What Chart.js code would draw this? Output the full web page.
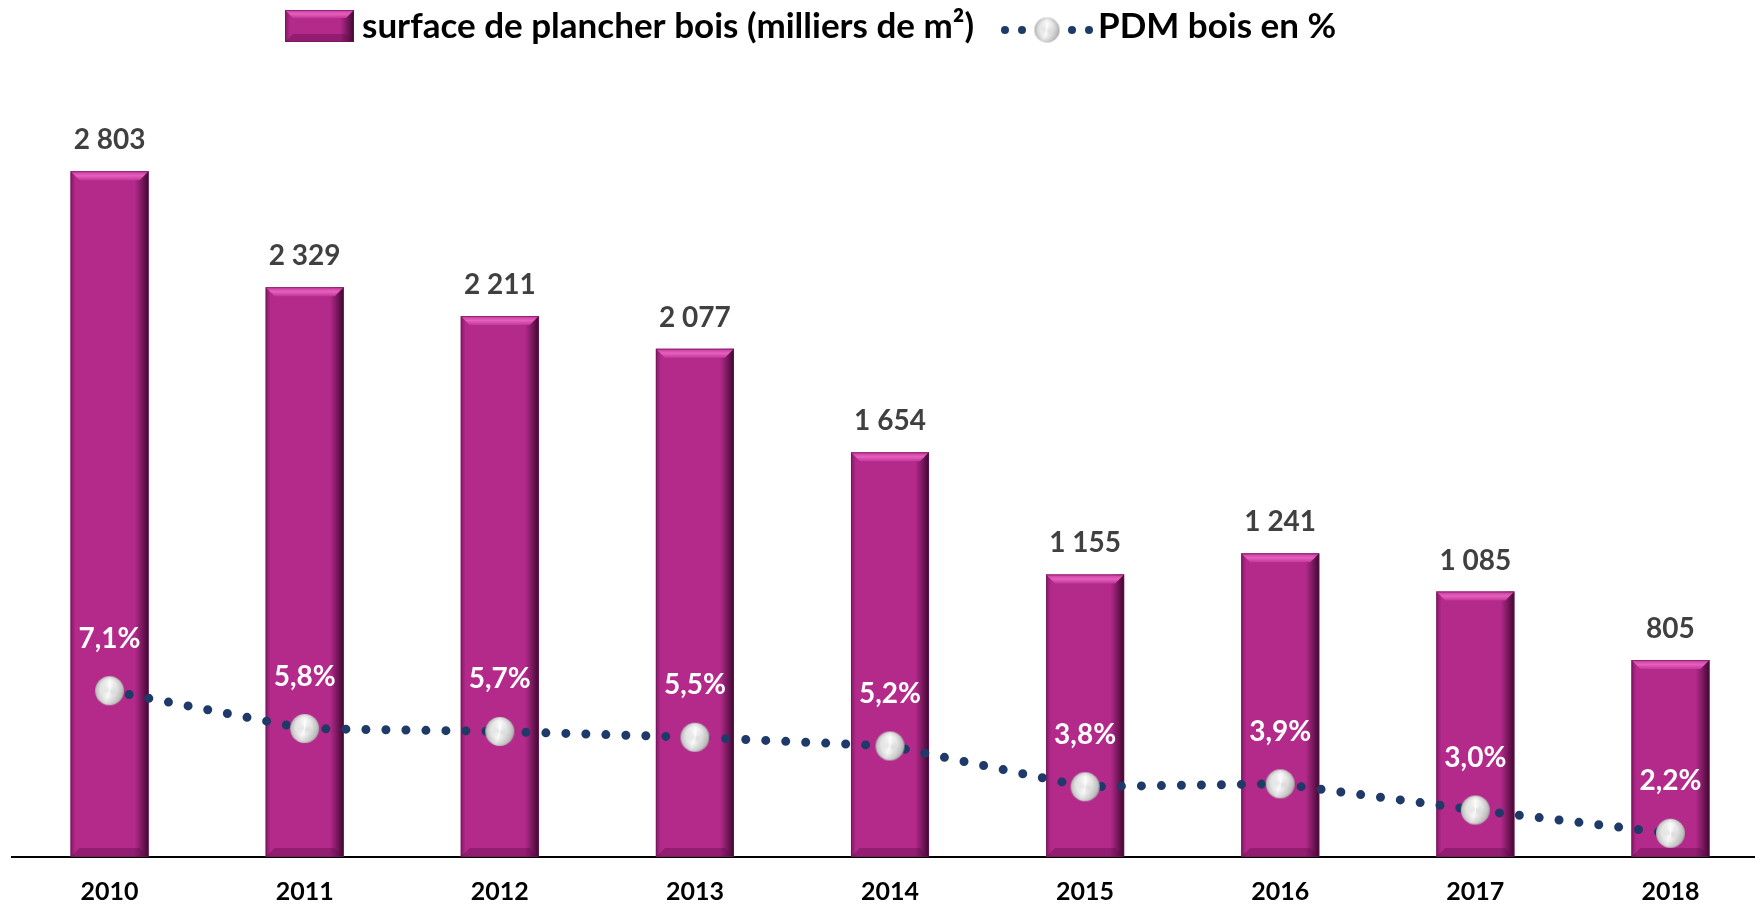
<!DOCTYPE html>
<html>
<head>
<meta charset="utf-8">
<script src="https://cdn.jsdelivr.net/npm/chart.js@4"></script>
<style>
  html, body { margin: 0; padding: 0; background: #fff; overflow: hidden; }
  #wrap { width: 1770px; height: 905px; }
</style>
</head>
<body>
<div id="wrap"><canvas id="chart" width="1770" height="905"></canvas></div>
<script>
const years = ["2010", "2011", "2012", "2013", "2014", "2015", "2016", "2017", "2018"];
const surface = [2803, 2329, 2211, 2077, 1654, 1155, 1241, 1085, 805];
const pdm = [7.1, 5.8, 5.7, 5.5, 5.2, 3.8, 3.9, 3.0, 2.2];

const BAR = "#b42a8b";
const NAVY = "#1f3a68";
const FONT = "Lato, 'Open Sans', sans-serif";

const fmtInt = (v) => String(v).replace(/\B(?=(\d{3})+(?!\d))/g, " ");
const fmtPct = (v) => v.toFixed(1).replace(".", ",") + "%";

// silver ball used as point style
function makeSphere(r) {
  const size = Math.ceil(r * 2 + 2);
  const c = document.createElement("canvas");
  c.width = size; c.height = size;
  const g = c.getContext("2d");
  const cx = size / 2, cy = size / 2;
  const rad = g.createRadialGradient(cx - r * 0.15, cy - r * 0.3, r * 0.05, cx, cy, r);
  rad.addColorStop(0, "#ffffff");
  rad.addColorStop(0.55, "#f7f7f7");
  rad.addColorStop(0.88, "#cfcfcf");
  rad.addColorStop(1, "#a5a5a5");
  g.beginPath(); g.arc(cx, cy, r, 0, Math.PI * 2); g.fillStyle = rad; g.fill();
  if (g.createConicGradient) {
    const con = g.createConicGradient(-Math.PI / 2, cx, cy);
    con.addColorStop(0, "rgba(255,255,255,0.35)");
    con.addColorStop(0.3, "rgba(110,110,110,0.2)");
    con.addColorStop(0.55, "rgba(255,255,255,0.35)");
    con.addColorStop(0.8, "rgba(120,120,120,0.15)");
    con.addColorStop(1, "rgba(255,255,255,0.35)");
    g.beginPath(); g.arc(cx, cy, r, 0, Math.PI * 2); g.fillStyle = con; g.fill();
  }
  return c;
}
const sphere = makeSphere(14.5);
const sphereSmall = makeSphere(12.5);

// bevelled bar look, drawn over a flat rectangle
function bevel(ctx, l, t, r, b, e) {
  ctx.save();
  let g = ctx.createLinearGradient(r - 14, 0, r, 0);
  g.addColorStop(0, "rgba(60,5,45,0)");
  g.addColorStop(1, "rgba(40,0,30,0.85)");
  ctx.fillStyle = g; ctx.fillRect(r - 14, t, 14, b - t);
  g = ctx.createLinearGradient(l, 0, l + 5, 0);
  g.addColorStop(0, "rgba(90,10,70,0.55)");
  g.addColorStop(1, "rgba(90,10,70,0)");
  ctx.fillStyle = g; ctx.fillRect(l, t, 5, b - t);
  // top
  ctx.beginPath();
  ctx.moveTo(l, t); ctx.lineTo(r, t); ctx.lineTo(r - e, t + e); ctx.lineTo(l + e, t + e); ctx.closePath();
  g = ctx.createLinearGradient(0, t, 0, t + e);
  g.addColorStop(0, "#c43a9c");
  g.addColorStop(0.5, "#e660bd");
  g.addColorStop(1, "#c2379a");
  ctx.fillStyle = g; ctx.fill();
  // bottom
  ctx.beginPath();
  ctx.moveTo(l, b); ctx.lineTo(r, b); ctx.lineTo(r - e, b - e); ctx.lineTo(l + e, b - e); ctx.closePath();
  ctx.fillStyle = "rgba(95,10,75,0.4)"; ctx.fill();
  ctx.strokeStyle = "rgba(110,20,85,0.6)"; ctx.lineWidth = 1;
  ctx.strokeRect(l + 0.5, t + 0.5, r - l - 1, b - t - 1);
  ctx.restore();
}

const barBevel = {
  id: "barBevel",
  afterDatasetDraw(chart, args) {
    if (args.index !== 0) return;
    const ctx = chart.ctx;
    args.meta.data.forEach((el) => {
      const p = el.getProps(["x", "y", "width", "base"], true);
      bevel(ctx, p.x - p.width / 2, p.y, p.x + p.width / 2, p.base, 9);
    });
  },
};

const valueLabels = {
  id: "valueLabels",
  afterDatasetsDraw(chart) {
    const ctx = chart.ctx;
    ctx.save();
    ctx.textAlign = "center";
    ctx.textBaseline = "middle";
    ctx.font = "bold 28px " + FONT;
    ctx.fillStyle = "#404040";
    chart.getDatasetMeta(0).data.forEach((el, i) => {
      ctx.fillText(fmtInt(surface[i]), el.x, el.y - 31);
    });
    ctx.font = "bold 28px " + FONT;
    ctx.fillStyle = "#ffffff";
    chart.getDatasetMeta(1).data.forEach((el, i) => {
      ctx.fillText(fmtPct(pdm[i]), el.x, el.y - 52);
    });
    ctx.restore();
  },
};

const legendBar = {
  id: "legendBar",
  afterDraw(chart) {
    const ctx = chart.ctx;
    ctx.save();
    ctx.fillStyle = BAR;
    ctx.fillRect(285, 10, 69, 32);
    bevel(ctx, 285, 10, 354, 42, 8);
    ctx.font = "bold 35px " + FONT;
    ctx.fillStyle = "#000";
    ctx.textBaseline = "middle";
    ctx.fillText("surface de plancher bois (milliers de m²)", 362, 27);
    ctx.fillStyle = NAVY;
    [1005, 1022, 1072, 1089].forEach((x) => {
      ctx.beginPath(); ctx.arc(x, 30, 4, 0, Math.PI * 2); ctx.fill();
    });
    ctx.drawImage(sphereSmall, 1047 - sphereSmall.width / 2, 30 - sphereSmall.height / 2);
    ctx.fillStyle = "#000";
    ctx.fillText("PDM bois en %", 1098, 27);
    ctx.restore();
  },
};

new Chart(document.getElementById("chart"), {
  type: "bar",
  data: {
    labels: years,
    datasets: [
      {
        type: "bar",
        label: "surface de plancher bois (milliers de m²)",
        data: surface,
        backgroundColor: BAR,
        borderWidth: 0,
        barPercentage: 0.4,
        categoryPercentage: 1,
        yAxisID: "y",
        order: 1,
      },
      {
        type: "line",
        label: "PDM bois en %",
        data: pdm,
        yAxisID: "y2",
        borderColor: NAVY,
        borderWidth: 9,
        borderDash: [0, 20],
        borderCapStyle: "round",
        tension: 0,
        pointStyle: sphere,
        pointRadius: 14,
        order: 0,
      },
    ],
  },
  options: {
    responsive: false,
    animation: false,
    devicePixelRatio: 1,
    layout: { autoPadding: false, padding: { left: 12, right: 2, top: 123, bottom: 0 } },
    plugins: { legend: { display: false }, tooltip: { enabled: false } },
    scales: {
      x: {
        type: "category",
        offset: true,
        grid: { display: false, drawTicks: false },
        border: { display: true, color: "#000", width: 2 },
        ticks: { color: "#000", font: { family: FONT, weight: "bold", size: 25 }, padding: 20 },
        afterFit: (s) => { s.height = 48; },
      },
      y: { display: false, min: 0, max: 3000 },
      y2: { display: false, min: 1.385, max: 26.61 },
    },
  },
  plugins: [barBevel, valueLabels, legendBar],
});
</script>
</body>
</html>
